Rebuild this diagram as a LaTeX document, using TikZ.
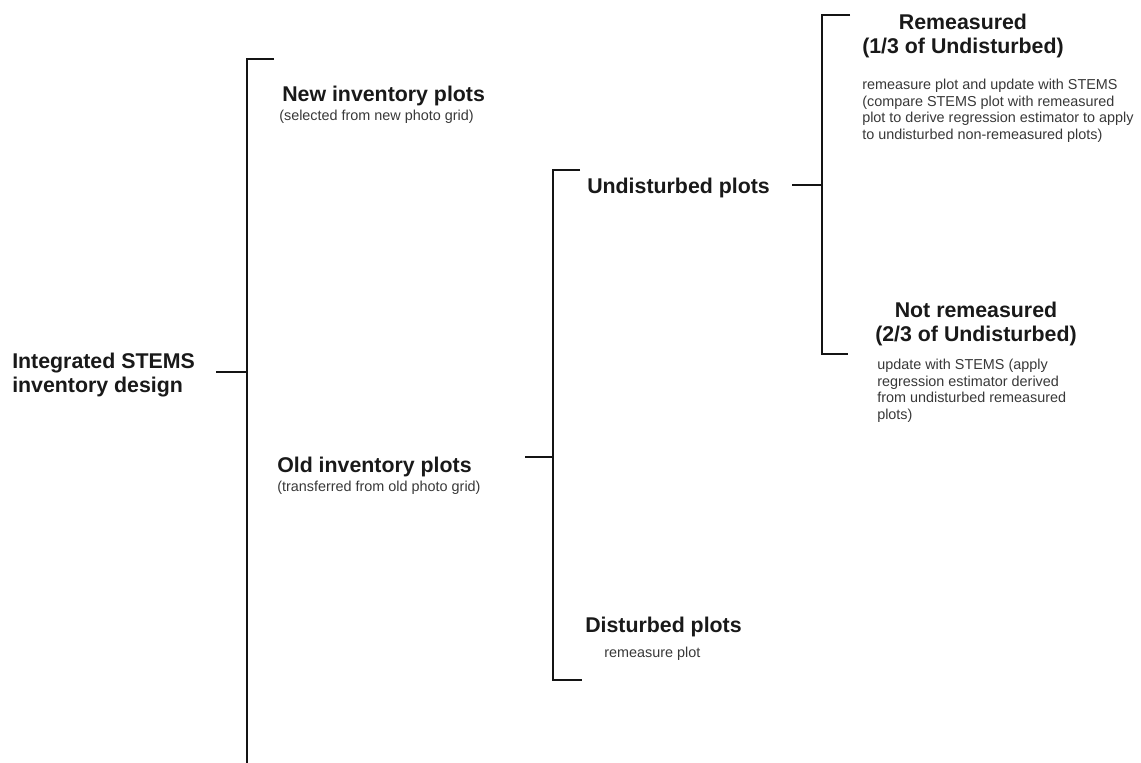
\documentclass[tikz,border=0pt]{standalone}
\usepackage{fontspec}
\setmainfont{Liberation Sans}
\usetikzlibrary{positioning}
\colorlet{brackblack}{black!92}
\colorlet{headgray}{black!90}
\colorlet{notegray}{black!78}
\tikzset{
  brack/.style={brackblack, line width=2pt},
  head/.style={inner sep=0pt, text=headgray, align=left,
    font=\bfseries\fontsize{16}{18}\selectfont},
  note/.style={inner sep=0pt, text=notegray, align=left,
    font=\fontsize{10.8}{12.4}\selectfont},
}

\begin{document}
\begin{tikzpicture}[x=0.75pt, y=-0.75pt]
        \useasboundingbox (0,0) rectangle (1141,763);
        \foreach \b/\x/\ya/\yb/\ta/\tb in {one/247/59/763/27/0, two/553/170/680/27/29, three/822/15/354/28/26}{
            \coordinate (\b top) at (\x,\ya);
            \coordinate (\b bot) at (\x,\yb);
            \draw[brack] (\x+\ta,\ya) -- (\b top) -- (\b bot) -- (\x+\tb,\yb);
        }
        \node[head, anchor=north west] (root) at (12,353) {Integrated STEMS\\inventory design};
        \node[head, anchor=north west] (newinv) at (282,86) {New inventory plots};
        \node[note, anchor=north west] (newnote) at (279,110) {(selected from new photo grid)};
        \node[head, anchor=north west] (oldinv) at (277,457) {Old inventory plots};
        \node[note, anchor=north west] (oldnote) at (277,481) {(transferred from old photo grid)};
        \node[head, anchor=north west] (undist) at (587,178) {Undisturbed plots};
        \node[head, anchor=north west] (dist) at (585,617) {Disturbed plots};
        \node[note, anchor=north west] (distnote) at (604,647) {remeasure plot};
        \node[head, align=center, anchor=north] (remeas) at (963,14) {Remeasured\\(1/3 of Undisturbed)};
        \node[note, anchor=north west] (remnote) at (862,79) {remeasure plot and update with STEMS\\(compare STEMS plot with remeasured\\plot to derive regression estimator to apply\\to undisturbed non-remeasured plots)};
        \node[head, align=center, anchor=north] (notrem) at (976,302) {Not remeasured\\(2/3 of Undisturbed)};
        \node[note, anchor=north west] (notnote) at (877,359) {update with STEMS (apply\\regression estimator derived\\from undisturbed remeasured\\plots)};
        \coordinate (rootstub) at (216,372);
        \coordinate (oldstub) at (525,457);
        \coordinate (undstub) at (792,185);
        \draw[brack] (rootstub) -- (rootstub -| onetop);
        \draw[brack] (oldstub) -- (oldstub -| twotop);
        \draw[brack] (undstub) -- (undstub -| threetop);
\end{tikzpicture}
\end{document}
